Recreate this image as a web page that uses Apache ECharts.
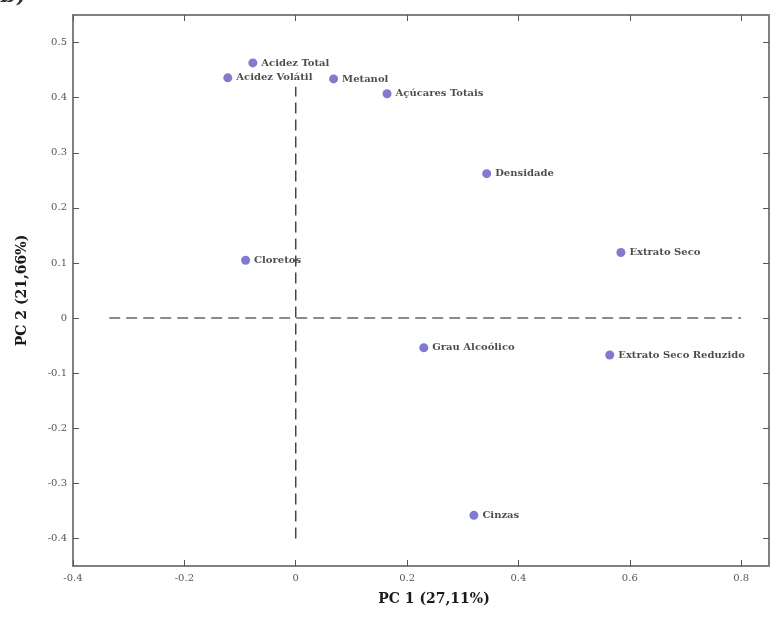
<!DOCTYPE html>
<html>
<head>
<meta charset="utf-8">
<script src="https://cdn.jsdelivr.net/npm/echarts@6/dist/echarts.min.js"></script>
<style>html,body{margin:0;padding:0;background:#fff;}#c{width:773px;height:618px;}</style>
</head>
<body>
<div id="c"></div>
<script>
const names = ["Acidez Total","Acidez Volátil","Metanol","Açúcares Totais","Densidade","Extrato Seco","Cloretos","Grau Alcoólico","Extrato Seco Reduzido","Cinzas"];
const pc1 = [-0.077,-0.122,0.068,0.164,0.343,0.584,-0.09,0.23,0.564,0.32];
const pc2 = [0.463,0.436,0.434,0.407,0.262,0.119,0.105,-0.054,-0.067,-0.358];
const xTicks = [-0.4,-0.2,0,0.2,0.4,0.6,0.8];
const yTicks = [-0.4,-0.3,-0.2,-0.1,0,0.1,0.2,0.3,0.4,0.5];
const hRef = [[-0.335,0],[0.8,0]];
const vRef = [[0,-0.4],[0,0.42]];

const serif = '"DejaVu Serif","Liberation Serif",serif';
const chart = echarts.init(document.getElementById('c'));
const fmt = v => String(Math.round(v*10)/10);
const axisLineStyle = {color:'#808080', width:2};
const tickStyle = {color:'#555', width:1};
chart.setOption({
  animation:false,
  backgroundColor:'#fff',
  grid:{left:73,right:4,top:15,bottom:52},
  graphic:[{type:'text',left:0,top:-15,style:{text:'b)',font:'bold 22px '+serif,fill:'#333'}}],
  xAxis:[{
    type:'value',min:-0.4,max:0.85,position:'bottom',
    axisLine:{show:true,onZero:false,lineStyle:axisLineStyle},
    axisTick:{show:true,inside:true,length:6,customValues:xTicks,lineStyle:tickStyle},
    axisLabel:{customValues:xTicks,formatter:fmt,fontFamily:serif,fontSize:10,color:'#555',margin:7},
    splitLine:{show:false},
    name:'PC 1 (27,11%)',nameLocation:'middle',nameGap:26,
    nameTextStyle:{fontFamily:serif,fontWeight:'bold',fontSize:14,color:'#1a1a1a',padding:[0,0,0,26]}
  },{
    type:'value',min:-0.4,max:0.85,position:'top',
    axisLine:{show:true,onZero:false,lineStyle:axisLineStyle},
    axisTick:{show:true,inside:true,length:6,customValues:xTicks,lineStyle:tickStyle},
    axisLabel:{show:false},splitLine:{show:false}
  }],
  yAxis:[{
    type:'value',min:-0.45,max:0.55,position:'left',
    axisLine:{show:true,onZero:false,lineStyle:axisLineStyle},
    axisTick:{show:true,inside:true,length:6,customValues:yTicks,lineStyle:tickStyle},
    axisLabel:{customValues:yTicks,formatter:fmt,fontFamily:serif,fontSize:10,color:'#555',margin:6},
    splitLine:{show:false},
    name:'PC 2 (21,66%)',nameLocation:'middle',nameGap:44,
    nameTextStyle:{fontFamily:serif,fontWeight:'bold',fontSize:14,color:'#1a1a1a'}
  },{
    type:'value',min:-0.45,max:0.55,position:'right',
    axisLine:{show:true,onZero:false,lineStyle:axisLineStyle},
    axisTick:{show:true,inside:true,length:6,customValues:yTicks,lineStyle:tickStyle},
    axisLabel:{show:false},splitLine:{show:false}
  }],
  series:[
    {type:'line',data:hRef,symbol:'none',silent:true,
     lineStyle:{color:'#666',width:1.5,type:[11,6]}},
    {type:'line',data:vRef,symbol:'none',silent:true,
     lineStyle:{color:'#444',width:1.5,type:[11,6]}},
    {type:'scatter',symbolSize:9,
     itemStyle:{color:'#625ac4'},
     data:names.map((n,i)=>({name:n,value:[pc1[i],pc2[i]]})),
     label:{show:true,position:'right',distance:4,formatter:p=>p.name,
       fontFamily:serif,fontWeight:'bold',fontSize:10,color:'#1e1e1e'}}
  ]
});
</script>
</body>
</html>
